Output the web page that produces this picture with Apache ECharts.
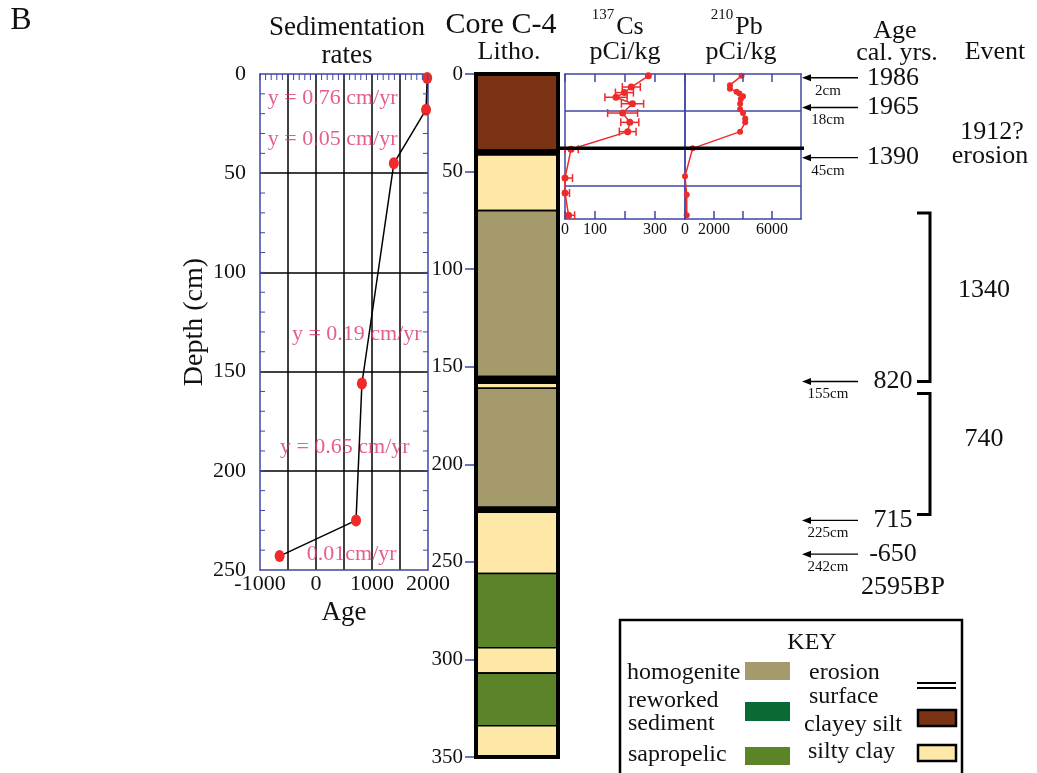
<!DOCTYPE html>
<html><head><meta charset="utf-8">
<script src="https://cdn.jsdelivr.net/npm/echarts@6/dist/echarts.min.js"></script>
<style>html,body{margin:0;padding:0;background:#fff}#c{width:1037px;height:773px}</style>
</head><body><div id="c"></div>
<script>
const FONT = '"Liberation Serif", "Times New Roman", serif';

// ---- Sedimentation rates panel ----
const sedAge = [1986, 1965, 1390, 820, 715, -650];
const sedDepth = [2, 18, 45, 156, 225, 243];
const rateLabels = ['y = 0.76 cm/yr', 'y = 0.05 cm/yr', 'y = 0.19 cm/yr', 'y = 0.65 cm/yr', '0.01cm/yr'];
const rateAnchorAge = [-860, -860, -430, -645, -165];
const rateAnchorDepth = [12, 33, 131, 188, 242];

// ---- Lithology column ----
const lithoType = ['clayey silt', 'erosion', 'silty clay', 'homogenite', 'erosion', 'silty clay', 'homogenite', 'erosion', 'silty clay', 'sapropelic', 'silty clay', 'sapropelic', 'silty clay'];
const lithoTop = [0, 39, 41.5, 70, 155, 158.5, 161, 222, 224.5, 256, 294, 307, 334];
const lithoBottom = [39, 41.5, 70, 155, 158.5, 161, 222, 224.5, 256, 294, 307, 334, 350];

// ---- 137Cs ----
const csDepth = [1, 7, 10, 12.5, 16, 21, 26, 31, 40.5, 56, 64, 76];
const csValue = [278, 221, 198, 170, 225, 192, 216, 209, 20, 0, 0, 12];
const csErr = [0, 30, 30, 37, 37, 50, 30, 28, 24, 25, 15, 20];
const csTickLabels = [0, 100, 300];

// ---- 210Pb ----
const pbDepth = [1, 6, 8, 9.5, 10.5, 12, 13.5, 16, 19, 21, 24, 26, 31, 40, 55, 65, 76];
const pbValue = [3900, 3100, 3100, 3550, 3750, 4000, 3850, 3800, 3800, 4000, 4150, 4150, 3800, 530, 0, 120, 120];
const pbTickLabels = [0, 2000, 6000];

// ---- Age annotations ----
const erosionDepth = 40;
const upperMarkDepth = [2, 18, 45];
const upperMarkCm = ['2cm', '18cm', '45cm'];
const upperMarkAge = ['1986', '1965', '1390'];
const lowerMarkDepth = [155, 225, 242];
const lowerMarkCm = ['155cm', '225cm', '242cm'];
const lowerMarkAge = ['820', '715', '-650'];
const lowerMarkNote = ['', '', '2595BP'];
const eventFrom = [70, 161];
const eventTo = [155, 222];
const eventLabel = ['1340', '740'];
const eventLabelDepth = [109, 184];

const blue = '#3f47a6';
const red = '#ee2b2b';
const pink = '#dc3470';
const ink = '#111';
const lithoColor = {
  'clayey silt': '#7a3413', 'silty clay': '#fde8a7', 'homogenite': '#a59a6c',
  'sapropelic': '#5b8328', 'reworked': '#0b6a34', 'erosion': '#000'
};

const chart = echarts.init(document.getElementById('c'));

const G = [
  {left: 260, top: 74, width: 168, height: 496},
  {left: 476, top: 74, width: 82, height: 683},
  {left: 565, top: 74, width: 120, height: 145},
  {left: 685, top: 74, width: 116, height: 145}
];
const grids = G.map(g => Object.assign({containLabel: false, outerBoundsMode: 'none'}, g));

const blueLine = {show: true, onZero: false, lineStyle: {color: blue, width: 1.5}};
const noLine = {show: false, onZero: false};
const noLabel = {show: false};
const noTick = {show: false};
const noSplit = {show: false};
const lab = (size, extra) => Object.assign({fontFamily: FONT, fontSize: size, color: ink}, extra || {});
const xBase = (gi, min, max, interval) => ({gridIndex: gi, type: 'value', min: min, max: max, interval: interval});

const option = {
  animation: false,
  backgroundColor: '#fff',
  textStyle: {fontFamily: FONT},
  grid: grids,
  xAxis: [
    Object.assign(xBase(0, -1000, 2000, 500), {position: 'bottom', axisLine: blueLine, axisTick: noTick,
     axisLabel: lab(22, {margin: 3, formatter: v => (v % 1000 === 0 ? String(v) : '')}),
     splitLine: {show: true, showMinLine: false, showMaxLine: false, lineStyle: {color: '#000', width: 1.5}},
     name: 'Age', nameLocation: 'middle', nameGap: 28, nameTextStyle: lab(27)}),
    Object.assign(xBase(0, -1000, 2000, 500), {position: 'top', axisLine: blueLine, axisTick: noTick, axisLabel: noLabel, splitLine: noSplit}),
    {gridIndex: 1, type: 'value', min: 0, max: 1, show: false, axisLine: noLine},
    Object.assign(xBase(2, 0, 400, 100), {position: 'bottom', axisLine: blueLine, axisTick: noTick,
     axisLabel: lab(16, {margin: 3, formatter: v => (csTickLabels.indexOf(v) >= 0 ? String(v) : '')}), splitLine: noSplit}),
    Object.assign(xBase(2, 0, 400, 100), {position: 'top', axisLine: blueLine, axisTick: noTick, axisLabel: noLabel, splitLine: noSplit}),
    Object.assign(xBase(3, 0, 8000, 2000), {position: 'bottom', axisLine: blueLine, axisTick: noTick,
     axisLabel: lab(16, {margin: 3, formatter: v => (pbTickLabels.indexOf(v) >= 0 ? String(v) : '')}), splitLine: noSplit}),
    Object.assign(xBase(3, 0, 8000, 2000), {position: 'top', axisLine: blueLine, axisTick: noTick, axisLabel: noLabel, splitLine: noSplit})
  ],
  yAxis: [
    {gridIndex: 0, type: 'value', position: 'left', inverse: true, min: 0, max: 250, interval: 50,
     axisLine: blueLine, axisTick: noTick, axisLabel: lab(22, {margin: 14}),
     splitLine: {show: true, showMinLine: false, showMaxLine: false, lineStyle: {color: '#000', width: 1.5}},
     name: 'Depth (cm)', nameLocation: 'middle', nameGap: 48, nameRotate: 90, nameTextStyle: lab(28)},
    {gridIndex: 0, type: 'value', position: 'right', inverse: true, min: 0, max: 250, interval: 50,
     axisLine: blueLine, axisTick: noTick, axisLabel: noLabel, splitLine: noSplit},
    {gridIndex: 1, type: 'value', position: 'left', inverse: true, min: 0, max: 350, interval: 50,
     axisLine: noLine, axisTick: {show: true, length: 11, lineStyle: {color: blue, width: 1.5}},
     axisLabel: lab(21, {margin: 13}), splitLine: noSplit},
    {gridIndex: 2, type: 'value', position: 'left', inverse: true, min: 0, max: 78, interval: 20,
     axisLine: blueLine, axisTick: noTick, axisLabel: noLabel,
     splitLine: {show: true, showMinLine: false, showMaxLine: false, lineStyle: {color: blue, width: 1.5}}},
    {gridIndex: 2, type: 'value', position: 'right', inverse: true, min: 0, max: 78, interval: 20,
     axisLine: blueLine, axisTick: noTick, axisLabel: noLabel, splitLine: noSplit},
    {gridIndex: 3, type: 'value', position: 'left', inverse: true, min: 0, max: 78, interval: 20,
     axisLine: blueLine, axisTick: noTick, axisLabel: noLabel,
     splitLine: {show: true, showMinLine: false, showMaxLine: false, lineStyle: {color: blue, width: 1.5}}},
    {gridIndex: 3, type: 'value', position: 'right', inverse: true, min: 0, max: 78, interval: 20,
     axisLine: blueLine, axisTick: noTick, axisLabel: noLabel, splitLine: noSplit}
  ],
  series: [
    {type: 'line', xAxisIndex: 0, yAxisIndex: 0, z: 5,
     data: sedAge.map((a, i) => [a, sedDepth[i]]),
     lineStyle: {color: '#000', width: 1.5}, symbol: 'circle', symbolSize: [10, 12],
     itemStyle: {color: red}, silent: true},
    {type: 'scatter', xAxisIndex: 0, yAxisIndex: 0, z: 4, silent: true, symbolSize: 0,
     data: rateAnchorAge.map((a, i) => [a, rateAnchorDepth[i]]),
     label: {show: true, position: 'right', distance: 0, color: pink, fontSize: 22, fontFamily: FONT,
             formatter: p => rateLabels[p.dataIndex]}},
    {type: 'custom', xAxisIndex: 2, yAxisIndex: 2, silent: true, encode: {x: 0, y: 1},
     data: lithoTop.map((t, i) => [i, t, lithoBottom[i]]),
     renderItem: (params, api) => {
       const i = api.value(0);
       const p1 = api.coord([0, api.value(1)]);
       const p2 = api.coord([1, api.value(2)]);
       return {type: 'rect', shape: {x: p1[0], y: p1[1], width: p2[0] - p1[0], height: p2[1] - p1[1]},
               style: {fill: lithoColor[lithoType[i]], stroke: '#000', lineWidth: 1.6}};
     }},
    {type: 'custom', xAxisIndex: 2, yAxisIndex: 2, silent: true, z: 6, encode: {x: 0, y: 1},
     data: [[0, lithoTop[0], lithoBottom[lithoBottom.length - 1]]],
     renderItem: (params, api) => {
       const p1 = api.coord([0, api.value(1)]);
       const p2 = api.coord([1, api.value(2)]);
       return {type: 'rect', shape: {x: p1[0], y: p1[1], width: p2[0] - p1[0], height: p2[1] - p1[1]},
               style: {fill: 'none', stroke: '#000', lineWidth: 4}};
     }},
    {type: 'custom', xAxisIndex: 3, yAxisIndex: 3, silent: true, z: 4, encode: {x: 0, y: 1},
     data: csValue.map((v, i) => [v, csDepth[i], csErr[i]]),
     renderItem: (params, api) => {
       const v = api.value(0), d = api.value(1), e = api.value(2);
       if (!e) return null;
       const lo = api.coord([Math.max(v - e, 0), d]);
       const hi = api.coord([v + e, d]);
       const c = 4;
       const st = {stroke: red, lineWidth: 1.5};
       return {type: 'group', children: [
         {type: 'line', shape: {x1: lo[0], y1: lo[1], x2: hi[0], y2: hi[1]}, style: st},
         {type: 'line', shape: {x1: lo[0], y1: lo[1] - c, x2: lo[0], y2: lo[1] + c}, style: st},
         {type: 'line', shape: {x1: hi[0], y1: hi[1] - c, x2: hi[0], y2: hi[1] + c}, style: st}
       ]};
     }},
    {type: 'line', xAxisIndex: 3, yAxisIndex: 3, z: 5, silent: true,
     data: csValue.map((v, i) => [v, csDepth[i]]),
     lineStyle: {color: red, width: 1.5}, symbol: 'circle', symbolSize: 7, itemStyle: {color: red}},
    {type: 'line', xAxisIndex: 5, yAxisIndex: 5, z: 5, silent: true,
     data: pbValue.map((v, i) => [v, pbDepth[i]]),
     lineStyle: {color: red, width: 1.5}, symbol: 'circle', symbolSize: 6, itemStyle: {color: red}}
  ]
};
chart.setOption(option);

const px = (xi, yi, x, y) => chart.convertToPixel({xAxisIndex: xi, yAxisIndex: yi}, [x, y]);
const T = (text, x, y, size, align, extra) => ({
  type: 'text', x: x, y: y, silent: true, z: 100,
  style: Object.assign({text: text, fontFamily: FONT, fontSize: size, fill: ink,
                        align: align || 'center', verticalAlign: 'middle'}, extra || {})
});
const g = [];
const L = (x1, y1, x2, y2, color, w, z) => g.push({type: 'line', silent: true, z: z || 60,
  shape: {x1: x1, y1: y1, x2: x2, y2: y2}, style: {stroke: color, lineWidth: w}});

// inward axis ticks, positioned through the axis scales
// sedimentation panel: top ticks every 100 yr, side ticks every 10 cm
for (let a = -1000; a <= 2000; a += 100) {
  const p = px(0, 0, a, 0);
  L(p[0], p[1], p[0], p[1] + 6, blue, 1);
}
for (let d = 10; d < 250; d += 10) {
  const pl = px(0, 0, -1000, d), pr = px(0, 0, 2000, d);
  L(pl[0], pl[1], pl[0] + 5, pl[1], blue, 1);
  L(pr[0], pr[1], pr[0] - 5, pr[1], blue, 1);
}
// Cs and Pb: ticks on top and bottom edges
[[3, 3, 0, 400, 100], [5, 5, 0, 8000, 2000]].forEach(([xi, yi, lo, hi, step]) => {
  for (let v = lo; v < hi; v += step) {
    const t = px(xi, yi, v, 0), b = px(xi, yi, v, 78);
    L(t[0], t[1], t[0], t[1] + 8, blue, 1.5);
    L(b[0], b[1], b[0], b[1] - 8, blue, 1.5);
  }
});

const lithoRight = px(2, 2, 1, 0)[0];
const pbRight = px(5, 5, 8000, 0)[0];
const yEro = px(3, 3, 0, erosionDepth)[1];
L(lithoRight, yEro, pbRight + 3, yEro, '#000', 3.5, 70);

function arrow(y, cm, age, note) {
  const xh = pbRight + 1, xt = 858;
  L(xh + 5, y, xt, y, '#000', 1.4);
  g.push({type: 'polygon', silent: true, shape: {points: [[xh, y], [xh + 9, y - 3.5], [xh + 9, y + 3.5]]}, style: {fill: '#000'}});
  g.push(T(cm, 828, y + 13, 15));
  g.push(T(age, 893, y, 26));
  if (note) g.push(T(note, 903, y + 33, 26));
}
upperMarkDepth.forEach((d, i) => arrow(px(3, 3, 0, d)[1], upperMarkCm[i], upperMarkAge[i], ''));
lowerMarkDepth.forEach((d, i) => arrow(px(0, 0, 0, d)[1], lowerMarkCm[i], lowerMarkAge[i], lowerMarkNote[i]));

eventFrom.forEach((f, i) => {
  const y1 = px(0, 0, 0, f)[1], y2 = px(0, 0, 0, eventTo[i])[1];
  g.push({type: 'polyline', silent: true, shape: {points: [[917, y1], [930, y1], [930, y2], [917, y2]]},
          style: {stroke: '#000', lineWidth: 3, fill: null}});
  g.push(T(eventLabel[i], 984, px(0, 0, 0, eventLabelDepth[i])[1], 26));
});

g.push(T('B', 21, 21, 32));
g.push(T('Sedimentation', 347, 28, 27));
g.push(T('rates', 347, 56, 27));
g.push(T('Core C-4', 501, 25, 30));
g.push(T('Litho.', 509, 52, 26));
g.push(T('137', 603, 15, 15));
g.push(T('Cs', 630, 27, 26));
g.push(T('pCi/kg', 625, 52, 26));
g.push(T('210', 722, 15, 15));
g.push(T('Pb', 749, 27, 26));
g.push(T('pCi/kg', 741, 52, 26));
g.push(T('Age', 895, 31, 26));
g.push(T('cal. yrs.', 897, 53, 26));
g.push(T('Event', 995, 52, 26));
g.push(T('1912?', 992, 132, 26));
g.push(T('erosion', 990, 156, 26));

g.push({type: 'rect', silent: true, shape: {x: 620, y: 620, width: 342, height: 170},
        style: {fill: '#fff', stroke: '#000', lineWidth: 2.5}});
g.push(T('KEY', 812, 643, 24));
g.push(T('homogenite', 627, 673, 24, 'left'));
g.push(T('reworked', 628, 701, 24, 'left'));
g.push(T('sediment', 628, 724, 24, 'left'));
g.push(T('sapropelic', 628, 755, 24, 'left'));
g.push(T('erosion', 809, 673, 24, 'left'));
g.push(T('surface', 809, 697, 24, 'left'));
g.push(T('clayey silt', 804, 725, 24, 'left'));
g.push(T('silty clay', 808, 752, 24, 'left'));
const sw = (x, y, w, h, fill, stroke) => g.push({type: 'rect', silent: true, z: 101, shape: {x: x, y: y, width: w, height: h},
  style: {fill: fill, stroke: stroke || null, lineWidth: stroke ? 2.5 : 0}});
sw(745, 662, 45, 18, lithoColor['homogenite']);
sw(745, 702, 45, 19, lithoColor['reworked']);
sw(745, 747, 45, 18, lithoColor['sapropelic']);
sw(918, 710, 38, 16, lithoColor['clayey silt'], '#000');
sw(918, 745, 38, 16, lithoColor['silty clay'], '#000');
L(917, 683, 956, 683, '#000', 2, 101);
L(917, 688, 956, 688, '#000', 2, 101);

chart.setOption({graphic: g});
</script>
</body></html>
